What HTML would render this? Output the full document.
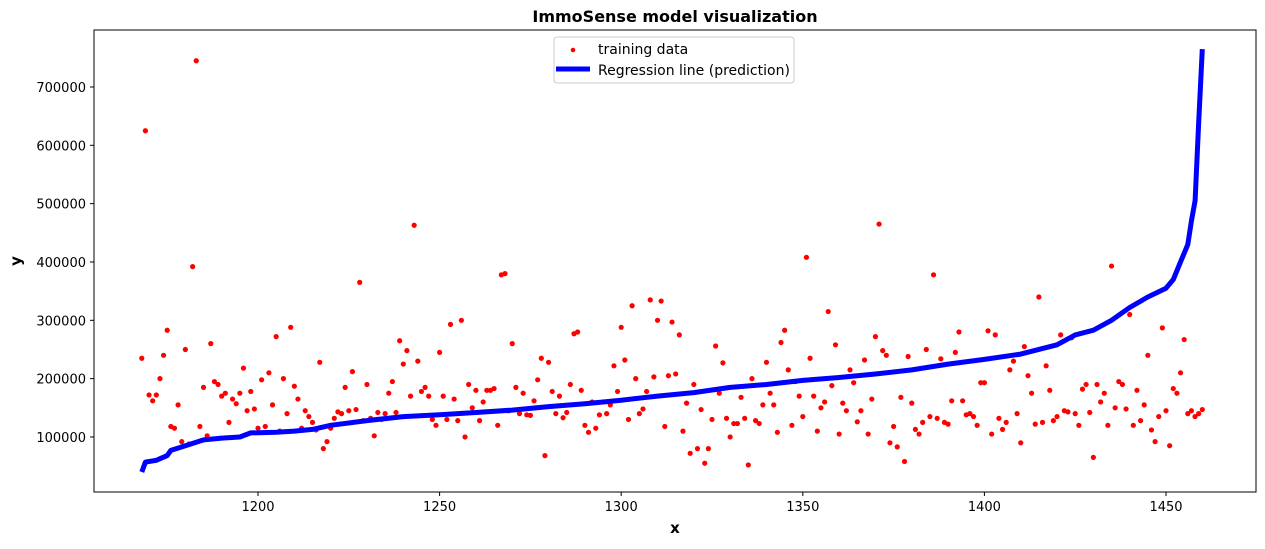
<!DOCTYPE html>
<html><head><meta charset="utf-8"><style>
body{margin:0;background:#fff;font-family:"DejaVu Sans","Liberation Sans",sans-serif}
svg text{font-family:"DejaVu Sans","Liberation Sans",sans-serif}
</style></head><body>
<svg id="chart" width="1265" height="545" xmlns="http://www.w3.org/2000/svg">
<text x="675" y="22" text-anchor="middle" font-size="16" font-weight="bold">ImmoSense model visualization</text>
<text x="675" y="533" text-anchor="middle" font-size="15" font-weight="bold">x</text>
<text x="21" y="261" text-anchor="middle" font-size="15" font-weight="bold" transform="rotate(-90 21 261)">y</text>
<g id="plot"></g>
<rect x="94" y="30" width="1162" height="462" fill="none" stroke="#000" stroke-width="1"/>
<g>
<rect x="554" y="37" width="240" height="46" rx="3" fill="#fff" fill-opacity="0.8" stroke="#ccc"/>
<circle cx="573" cy="50" r="2.3" fill="red"/>
<text x="598" y="54" font-size="14">training data</text>
<line x1="556" y1="69" x2="590" y2="69" stroke="blue" stroke-width="5"/>
<text x="598" y="75" font-size="14">Regression line (prediction)</text>
</g>
</svg>
<script>
const xStart = 1168;
const trainY = [235,625,172,162,172,200,240,283,118,115,155,92,250,88,392,745,118,185,102,260,195,190,170,175,125,165,157,175,218,145,178,148,115,198,118,210,155,272,110,200,140,288,187,165,115,145,135,125,112,228,80,92,115,132,143,140,185,145,212,147,365,128,190,132,102,142,130,140,175,195,142,265,225,248,170,463,230,178,185,170,130,120,245,170,130,293,165,128,300,100,190,150,180,128,160,180,180,183,120,378,380,145,260,185,140,175,138,137,162,198,235,68,228,178,140,170,133,142,190,277,280,180,120,108,160,115,138,160,140,155,222,178,288,232,130,325,200,140,148,178,335,203,300,333,118,205,297,208,275,110,158,72,190,80,147,55,80,130,256,175,227,132,100,123,123,168,132,52,200,128,123,155,228,175,155,108,262,283,215,120,195,170,135,408,235,170,110,150,160,315,188,258,105,158,145,215,193,126,145,232,105,165,272,465,248,240,90,118,83,168,58,238,158,113,105,125,250,135,378,132,234,125,122,162,245,280,162,138,140,135,120,193,193,282,105,275,132,113,125,215,230,140,90,255,205,175,122,340,125,222,180,128,135,275,145,143,270,140,120,182,190,142,65,190,160,175,120,393,150,195,190,148,310,120,180,128,155,240,112,92,135,287,145,85,183,175,210,267,140,145,135,140,147];
const lineX = [1168,1169,1172,1175,1176,1180,1185,1190,1195,1198,1205,1210,1215,1220,1230,1240,1250,1260,1270,1280,1290,1300,1310,1320,1330,1340,1350,1360,1370,1380,1390,1400,1410,1420,1425,1430,1435,1440,1445,1450,1452,1454,1456,1457,1458,1459,1460];
const lineY = [40,57,60,68,77,85,95,98,100,107,108,110,113,120,128,135,138,142,146,152,157,163,170,176,185,190,197,202,208,215,225,233,242,258,275,283,300,322,340,355,370,400,430,470,505,640,765];
const xTicks = [1200,1250,1300,1350,1400,1450];
const yTicks = [100000,200000,300000,400000,500000,600000,700000];

const NS = "http://www.w3.org/2000/svg";
const sx = v => 258 + (v - 1200) * 3.632;
const sy = v => 495.3 - v * 0.0005833;
const g = document.getElementById('plot');
function mk(tag, attrs){const e=document.createElementNS(NS,tag);for(const k in attrs)e.setAttribute(k,attrs[k]);return e;}

xTicks.forEach(t=>{
  const l=mk('line',{x1:sx(t),x2:sx(t),y1:492,y2:496,stroke:'#000'});
  
  
  g.appendChild(l);
  const tx=mk('text',{x:sx(t),y:511,'text-anchor':'middle','font-size':13});
  
  
  tx.textContent=t;g.appendChild(tx);
});
yTicks.forEach(t=>{
  const l=mk('line',{x1:90,x2:94,y1:sy(t),y2:sy(t),stroke:'#000'});
  
  
  g.appendChild(l);
  const tx=mk('text',{x:86,y:sy(t)+5,'text-anchor':'end','font-size':13});
  
  
  tx.textContent=t;g.appendChild(tx);
});
trainY.forEach((v,i)=>{
  const c=mk('circle',{cx:sx(xStart+i),cy:sy(v*1000),r:2.6,fill:'red'});
  
  
  g.appendChild(c);
});
const pts=lineX.map((x,i)=>sx(x).toFixed(1)+','+sy(lineY[i]*1000).toFixed(1)).join(' ');
const pl=mk('polyline',{points:pts,fill:'none',stroke:'blue','stroke-width':5,'stroke-linejoin':'round'});


g.appendChild(pl);
</script>
</body></html>
